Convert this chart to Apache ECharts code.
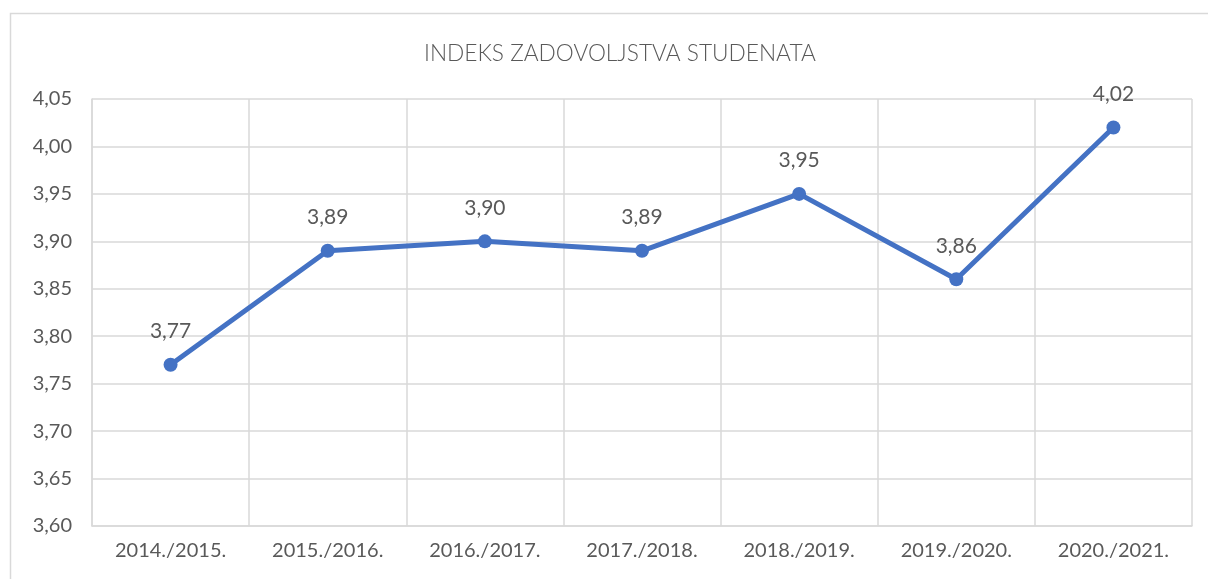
<!DOCTYPE html>
<html>
<head>
<meta charset="utf-8">
<script src="https://cdn.jsdelivr.net/npm/echarts@6/dist/echarts.min.js"></script>
<style>
html,body{margin:0;padding:0;background:#fff;}
#chart{width:1208px;height:579px;}
</style>
</head>
<body>
<div id="chart"></div>
<script>
const categories = ['2014./2015.', '2015./2016.', '2016./2017.', '2017./2018.', '2018./2019.', '2019./2020.', '2020./2021.'];
const values = [3.77, 3.89, 3.90, 3.89, 3.95, 3.86, 4.02];
const titleText = 'INDEKS ZADOVOLJSTVA STUDENATA';

const fmt = v => Number(v).toFixed(2).replace('.', ',');
const chart = echarts.init(document.getElementById('chart'), null, {renderer: 'canvas'});
const FONT = 'Lato';
chart.setOption({
  backgroundColor: '#fff',
  animation: false,
  graphic: [{
    type: 'rect', shape: {x: 10.5, y: 13.5, width: 1210, height: 600},
    style: {fill: 'none', stroke: '#d9d9d9', lineWidth: 1.5}, silent: true, z: -1
  }],
  title: {
    text: titleText, left: 419, top: 37,
    textStyle: {fontFamily: FONT, fontSize: 22.7, fontWeight: 300, color: '#595959'}
  },
  grid: {left: 92, right: 16, top: 99, bottom: 53, containLabel: false},
  xAxis: {
    type: 'category', data: categories, boundaryGap: true,
    axisLine: {show: true, lineStyle: {color: '#d9d9d9', width: 1.5}},
    axisTick: {show: false},
    splitLine: {show: true, lineStyle: {color: '#d9d9d9', width: 1.5}},
    axisLabel: {fontFamily: FONT, fontSize: 20, color: '#595959', margin: 15}
  },
  yAxis: {
    type: 'value', min: 3.6, max: 4.05, interval: 0.05,
    axisLine: {show: true, lineStyle: {color: '#d9d9d9', width: 1.5}},
    axisTick: {show: false},
    splitLine: {show: true, lineStyle: {color: '#d9d9d9', width: 1.5}},
    axisLabel: {fontFamily: FONT, fontSize: 20, color: '#595959', margin: 20, formatter: fmt}
  },
  series: [{
    type: 'line', data: values,
    symbol: 'circle', symbolSize: 14,
    lineStyle: {color: '#4472C4', width: 5},
    itemStyle: {color: '#4472C4'},
    label: {
      show: true, position: 'top', distance: 16,
      fontFamily: FONT, fontSize: 21, color: '#595959', formatter: p => fmt(p.value)
    }
  }]
});
</script>
</body>
</html>
